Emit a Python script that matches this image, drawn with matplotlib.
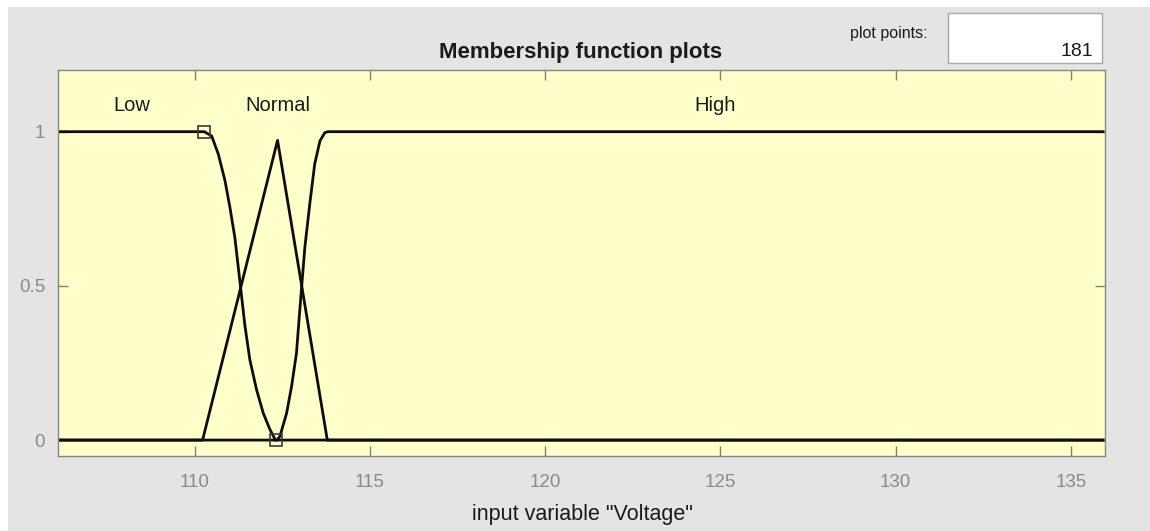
import matplotlib
matplotlib.use("Agg")
import matplotlib.pyplot as plt
from matplotlib.patches import Rectangle

plt.rcParams['font.family'] = ['Liberation Sans', 'DejaVu Sans']

# ---- data ----
x_range = [106.08, 135.96]

low_x = [106.08, 110.27, 110.48, 110.67, 110.86, 111.00, 111.14, 111.28, 111.43,
         111.57, 111.76, 111.95, 112.14, 112.30, 135.96]
low_y = [1.0, 1.0, 0.986, 0.927, 0.841, 0.755, 0.658, 0.52, 0.37,
         0.26, 0.164, 0.088, 0.035, 0.0, 0.0]

normal_x = [106.08, 110.22, 112.36, 113.78, 135.96]
normal_y = [0.0, 0.0, 0.972, 0.0, 0.0]

high_x = [106.08, 112.35, 112.43, 112.62, 112.76, 112.90, 112.98, 113.05, 113.14,
          113.28, 113.42, 113.57, 113.71, 113.80, 135.96]
high_y = [0.0, 0.0, 0.013, 0.088, 0.174, 0.282, 0.40, 0.50, 0.626,
          0.766, 0.895, 0.970, 0.997, 1.0, 1.0]

marker_x = [110.27, 112.31]
marker_y = [1.0, 0.0]

mf_names = ["Low", "Normal", "High"]
mf_label_x = [108.21, 112.38, 124.84]
mf_label_y = 1.067

xticks = [110, 115, 120, 125, 130, 135]
yticks = [0, 0.5, 1]
ytick_labels = ["0", "0.5", "1"]

title = "Membership function plots"
xlabel = 'input variable "Voltage"'
plot_points = "181"

# ---- figure ----
W, H = 1150, 531
fig = plt.figure(figsize=(W / 100, H / 100), dpi=100, facecolor="white")
# gray panel (white strip at top and left)
fig.patches.append(Rectangle((8 / W, 0), 1 - 8 / W, 1 - 7 / H, transform=fig.transFigure,
                             facecolor="#e4e4e4", edgecolor="none", zorder=-10))

ax = fig.add_axes([57.5 / W, (H - 455.5) / H, (1104.5 - 57.5) / W, (455.5 - 70) / H])
ax.set_zorder(1)
ax.set_facecolor("#ffffcc")
ax.set_xlim(*x_range)
ax.set_ylim(-0.05, 1.2)

lc = "#0d0d0d"
for xs, ys in ((low_x, low_y), (normal_x, normal_y), (high_x, high_y)):
    ax.plot(xs, ys, color=lc, lw=2.0, solid_joinstyle="round", solid_capstyle="butt")
ax.plot(marker_x, marker_y, ls="none", marker="s", ms=9, mfc="none",
        mec="#3a3a3a", mew=1.2, zorder=3)

for name, lx in zip(mf_names, mf_label_x):
    ax.text(lx, mf_label_y, name, ha="center", va="baseline", fontsize=14.5, color="#1a1a1a")

ax.set_xticks(xticks)
ax.set_xticklabels([str(t) for t in xticks])
ax.set_yticks(yticks)
ax.set_yticklabels(ytick_labels)
ax.tick_params(direction="in", top=True, right=True, length=7.5, width=1,
               color="#808080", labelcolor="#8a8a8a", labelsize=13.5)
ax.tick_params(axis="x", pad=13)
ax.tick_params(axis="y", pad=9)
for s in ax.spines.values():
    s.set_color("#858585")
    s.set_linewidth(1)

fig.text(581 / W, (H - 57.7) / H, title, ha="center", va="baseline",
         fontsize=16, fontweight="bold", color="#1a1a1a")
fig.text(582 / W, (H - 520) / H, xlabel, ha="center", va="baseline",
         fontsize=15.5, color="#1a1a1a")

# plot points box
fig.text(928 / W, (H - 38) / H, "plot points:", ha="right", va="baseline",
         fontsize=11.5, color="#1a1a1a")
fig.patches.append(Rectangle((948 / W, (H - 62.7) / H), (1101.7 - 948) / W, (62.7 - 13.3) / H,
                             transform=fig.transFigure, facecolor="white",
                             edgecolor="#a8a8a8", lw=1, zorder=1))
fig.text(1093 / W, (H - 56.5) / H, plot_points, ha="right", va="baseline",
         fontsize=14, color="#1a1a1a", zorder=2)

fig.savefig("out.png", dpi=100, facecolor=fig.get_facecolor())
